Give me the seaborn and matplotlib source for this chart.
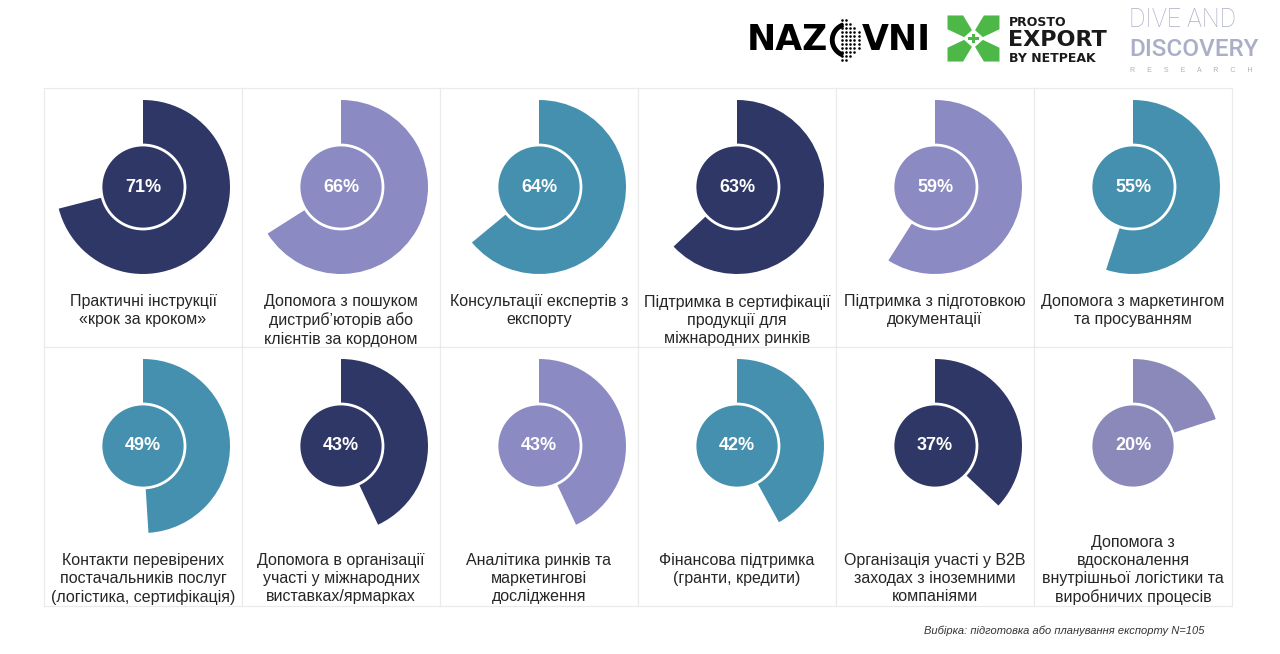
import matplotlib.pyplot as plt
import matplotlib.patches as mpatches
import seaborn as sns

# values (per cent)
values = [71, 66, 64, 63, 59, 55, 49, 43, 43, 42, 37, 20]
labels = [
    "Практичні інструкції\n«крок за кроком»",
    "Допомога з пошуком\nдистриб’юторів або\nклієнтів за кордоном",
    "Консультації експертів з\nекспорту",
    "Підтримка в сертифікації\nпродукції для\nміжнародних ринків",
    "Підтримка з підготовкою\nдокументації",
    "Допомога з маркетингом\nта просуванням",
    "Контакти перевірених\nпостачальників послуг\n(логістика, сертифікація)",
    "Допомога в організації\nучасті у міжнародних\nвиставках/ярмарках",
    "Аналітика ринків та\nмаркетингові\nдослідження",
    "Фінансова підтримка\n(гранти, кредити)",
    "Організація участі у B2B\nзаходах з іноземними\nкомпаніями",
    "Допомога з\nвдосконалення\nвнутрішньої логістики та\nвиробничих процесів",
]
navy, lavender, teal = "#2E3765", "#8B8AC2", "#4490AE"
cell_colors = [navy, lavender, teal, navy, lavender, teal,
               teal, navy, lavender, teal, navy, "#8A89B9"]
note = "Вибірка: підготовка або планування експорту N=105"

sns.set_theme(style="white")
plt.rcParams["font.family"] = ["Liberation Sans", "DejaVu Sans"]

W, H = 1280, 654
fig = plt.figure(figsize=(W / 100, H / 100), dpi=100)


def rect(x0, y0, w, h):
    return [x0 / W, 1 - (y0 + h) / H, w / W, h / H]


CW, CH = 198, 259
for i, (val, lab, col) in enumerate(zip(values, labels, cell_colors)):
    r, c = divmod(i, 6)
    ax = fig.add_axes(rect(44 + CW * c, 88 + CH * r, CW, CH))
    ax.pie([val, 100 - val], colors=[col, "none"], startangle=90,
           counterclock=False, radius=87, center=(99, 160),
           wedgeprops=dict(linewidth=0))
    ax.add_patch(mpatches.Circle((99, 160), 42, facecolor=col,
                                 edgecolor="white", linewidth=2, zorder=3))
    ax.text(99, 160, f"{val}%", ha="center", va="center", color="white",
            fontsize=13, fontweight="bold", zorder=4)
    n_lines = lab.count("\n") + 1
    top = 53 + (18.5 if n_lines > 3 else 0)
    ax.text(99, top, lab, ha="center", va="top", fontsize=11.5,
            color="#262626", linespacing=1.27)
    ax.set_xlim(0, CW)
    ax.set_ylim(0, CH)
    ax.set_aspect("auto")
    ax.set_xticks([])
    ax.set_yticks([])
    ax.set_frame_on(True)
    for sp in ax.spines.values():
        sp.set_visible(True)
        sp.set_color("#EAEAEA")
        sp.set_linewidth(0.8)

fig.text(1205 / W, 1 - 631 / H, note, ha="right", va="center",
         fontsize=8, style="italic", color="#333333")

# logos
fig.text(747 / W, 1 - 40 / H, "NAZ", ha="left", va="center", fontsize=25,
         fontweight="bold", color="black", family="DejaVu Sans")
fig.text(931 / W, 1 - 40 / H, "VNI", ha="right", va="center", fontsize=25,
         fontweight="bold", color="black", family="DejaVu Sans")
lax = fig.add_axes(rect(828, 15, 34, 50))
lax.set_xlim(-1, 1)
lax.set_ylim(-1, 1)
lax.axis("off")
lax.add_patch(mpatches.Arc((0.25, 0), 2.0, 1.3, theta1=120, theta2=240,
                           color="black", linewidth=3.5))
col_x = [-0.2, 0.05, 0.3, 0.55, 0.8]
col_h = [0.8, 0.8, 0.64, 0.48, 0.32]
for dx, hh in zip(col_x, col_h):
    n = int(round(hh / 0.16))
    ys = [k * 0.16 for k in range(-n, n + 1)]
    lax.scatter([dx] * len(ys), ys, s=3.5, color="black", linewidths=0)

green = "#4DB848"
gax = fig.add_axes(rect(947, 15, 53, 47))
gax.set_xlim(-1.02, 1.02)
gax.set_ylim(-1.02, 1.02)
gax.axis("off")
arm = [(-1, 1), (-0.4, 1), (-0.06, 0.36), (-0.36, 0.06), (-1, 0.4)]
for sx, sy in [(1, 1), (-1, 1), (1, -1), (-1, -1)]:
    gax.add_patch(mpatches.Polygon([(sx * x, sy * y) for x, y in arm],
                                   closed=True, color=green, linewidth=0))
gax.add_patch(mpatches.Rectangle((-0.2, -0.06), 0.4, 0.12, color=green, linewidth=0))
gax.add_patch(mpatches.Rectangle((-0.06, -0.2), 0.12, 0.4, color=green, linewidth=0))

fig.text(1009 / W, 1 - 23 / H, "PROSTO", ha="left", va="center", fontsize=9,
         fontweight="bold", color="#1A1A1A", family="DejaVu Sans")
fig.text(1008 / W, 1 - 40 / H, "EXPORT", ha="left", va="center", fontsize=16,
         fontweight="bold", color="#1A1A1A", family="DejaVu Sans")
fig.text(1009 / W, 1 - 58 / H, "BY NETPEAK", ha="left", va="center", fontsize=9,
         fontweight="bold", color="#1A1A1A", family="DejaVu Sans")

gray = "#ABAEC6"
fig.text(1129 / W, 1 - 20 / H, "DIVE AND", ha="left", va="center", fontsize=18,
         color=gray, family=["Roboto", "DejaVu Sans"], fontweight="light")
fig.text(1129 / W, 1 - 50 / H, "DISCOVERY", ha="left", va="center", fontsize=17.5,
         color=gray, family=["Roboto", "DejaVu Sans"], fontweight="medium")
fig.text(1130 / W, 1 - 70 / H, "R      E      S      E      A      R      C      H",
         ha="left", va="center", fontsize=5, color=gray)

fig.savefig("out.png", dpi=100, facecolor="white")
